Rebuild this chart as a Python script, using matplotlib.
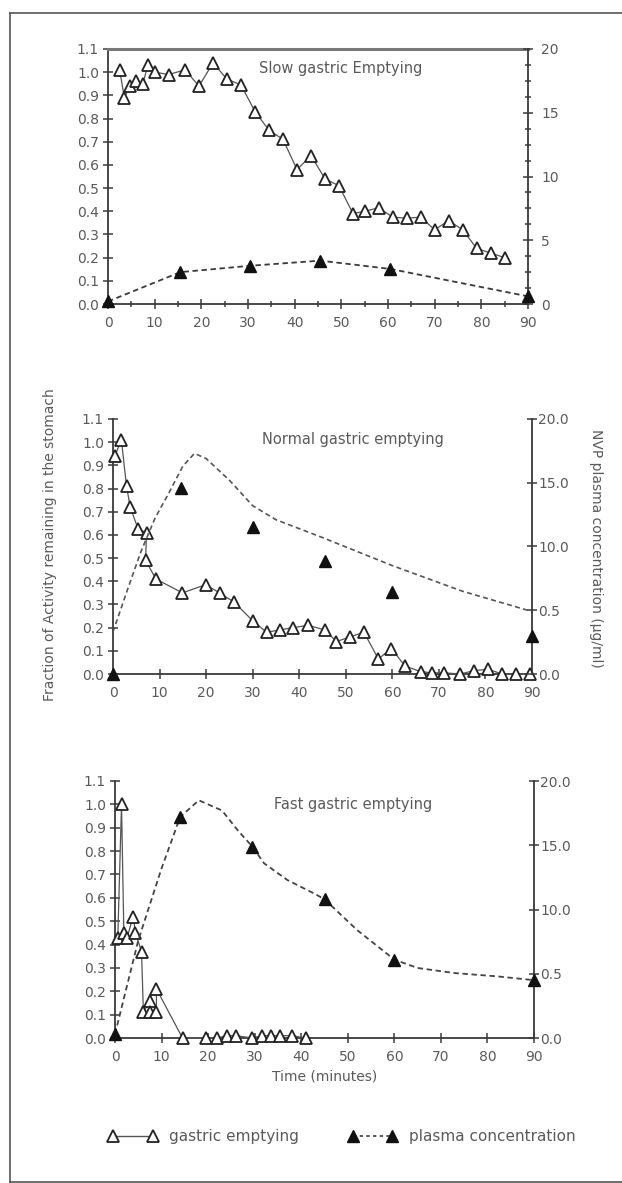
import matplotlib
matplotlib.use('Agg')
import matplotlib.pyplot as plt
from matplotlib.lines import Line2D
from matplotlib.ticker import MultipleLocator, FixedLocator, FixedFormatter, FormatStrFormatter

plt.rcParams['font.family'] = ['DejaVu Sans']

W, H = 622, 1183

# slow gastric emptying
slow_gastric_t = [2.5, 3.5, 4.7, 6.0, 7.5, 8.5, 10.0, 13.0, 16.5, 19.5, 22.5, 25.5, 28.5, 31.5, 34.5,
                  37.5, 40.5, 43.5, 46.5, 49.5, 52.5, 55.0, 58.0, 61.0, 64.0, 67.0, 70.0, 73.0, 76.0,
                  79.0, 82.0, 85.0]
slow_gastric_v = [1.01, 0.89, 0.94, 0.96, 0.95, 1.03, 1.00, 0.99, 1.01, 0.94, 1.04, 0.97, 0.945, 0.83,
                  0.75, 0.71, 0.58, 0.64, 0.54, 0.51, 0.39, 0.40, 0.415, 0.375, 0.37, 0.375, 0.32, 0.36,
                  0.32, 0.24, 0.22, 0.20]
slow_plasma_t = [0, 15.5, 30.5, 45.5, 60.5, 90]
slow_plasma_c = [0.2, 2.5, 3.0, 3.4, 2.75, 0.6]

# normal gastric emptying
normal_gastric_t = [0.4, 1.8, 2.9, 3.7, 5.4, 7.2, 7.0, 9.2, 14.9, 19.9, 22.9, 26.0, 30.0, 33.0, 35.8,
                    38.7, 41.9, 45.5, 48.0, 50.9, 53.9, 57.0, 59.8, 62.7, 66.1, 68.6, 71.2, 74.6, 77.6,
                    80.6, 83.6, 86.5, 89.5]
normal_gastric_v = [0.94, 1.01, 0.81, 0.72, 0.625, 0.61, 0.49, 0.41, 0.35, 0.385, 0.35, 0.31, 0.23,
                    0.18, 0.19, 0.20, 0.21, 0.19, 0.14, 0.16, 0.18, 0.065, 0.11, 0.035, 0.01, 0.005,
                    0.005, 0.0, 0.015, 0.02, 0.0, 0.0, 0.0]
normal_plasma_t = [0, 14.5, 30, 45.5, 60, 90]
normal_plasma_c = [0.0, 14.6, 11.5, 8.9, 6.4, 3.0]
normal_curve_t = [0, 3, 6, 9, 12, 15, 17.5, 20, 25, 30, 35, 45, 60, 75, 90]
normal_curve_c = [3.3, 6.5, 9.6, 12.2, 14.2, 16.3, 17.3, 16.9, 15.2, 13.2, 12.1, 10.7, 8.5, 6.5, 4.9]

# fast gastric emptying
fast_gastric_t = [0.6, 1.4, 1.9, 2.6, 3.9, 4.4, 5.7, 6.1, 7.5, 7.5, 8.9, 8.9, 14.5, 19.5, 22.0, 24.0,
                  26.0, 29.5, 31.5, 33.5, 35.5, 38.0, 41.0]
fast_gastric_v = [0.43, 1.00, 0.45, 0.43, 0.52, 0.45, 0.37, 0.11, 0.16, 0.11, 0.11, 0.21, 0.0, 0.0,
                  0.0, 0.01, 0.01, 0.0, 0.01, 0.01, 0.01, 0.01, 0.0]
fast_plasma_t = [0, 14, 29.5, 45, 60, 90]
fast_plasma_c = [0.3, 17.2, 14.9, 10.8, 6.1, 4.5]
fast_curve_t = [0, 5, 10, 14, 18, 23, 26.5, 29.5, 32, 37, 43, 45, 52, 60, 65, 73, 82, 90]
fast_curve_c = [0.3, 7.6, 13.2, 17.2, 18.5, 17.7, 16.1, 14.9, 13.6, 12.3, 11.2, 10.8, 8.4, 6.1, 5.45,
                5.05, 4.8, 4.5]

titles = ['Slow gastric Emptying', 'Normal gastric emptying', 'Fast gastric emptying']
right_tick_vals = [0, 5, 10, 15, 20]
right_labels_slow = ['0', '5', '10', '15', '20']
right_labels_other = ['0.0', '0.5', '10.0', '15.0', '20.0']

LINE = '#3a3a3a'
TEXT = '#5a5a5a'
FS = 10
FS_T = 10.5

fig = plt.figure(figsize=(W / 100, H / 100), dpi=100)


def box(left, top, right, bottom):
    return [left / W, 1 - bottom / H, (right - left) / W, (bottom - top) / H]


def setup(ax, ax2, right_labels, slow):
    ax.set_xlim(0, 90)
    ax.set_ylim(0, 1.1)
    ax2.set_ylim(0, 20)
    ax.xaxis.set_major_locator(MultipleLocator(10))
    ax.yaxis.set_major_locator(MultipleLocator(0.1))
    ax.yaxis.set_major_formatter(FormatStrFormatter('%.1f'))
    ax2.yaxis.set_major_locator(FixedLocator(right_tick_vals))
    ax2.yaxis.set_major_formatter(FixedFormatter(right_labels))
    for a in (ax, ax2):
        for s in a.spines.values():
            s.set_color(LINE)
            s.set_linewidth(1.3)
        a.tick_params(which='both', direction='inout', color=LINE, labelcolor=TEXT,
                      labelsize=FS, width=1.1)
        a.tick_params(which='major', length=7)
        a.tick_params(which='minor', length=5)
    ax.spines['right'].set_visible(False)
    ax2.spines['left'].set_visible(False)
    ax2.spines['bottom'].set_visible(False)
    ax2.spines['top'].set_visible(False)
    ax.tick_params(axis='y', pad=3)
    ax.tick_params(axis='x', pad=5)
    if slow:
        ax.xaxis.set_minor_locator(MultipleLocator(5))
        ax2.yaxis.set_minor_locator(MultipleLocator(1.25))
        ax.spines['top'].set_color('#777777')
        ax.spines['top'].set_linewidth(2.2)
        ax2.tick_params(axis='y', pad=6)
    else:
        ax.spines['top'].set_visible(False)
        ax2.tick_params(axis='y', pad=1)


def gastric(ax, t, v):
    ax.plot(t, v, color='#555555', lw=0.9, ls='-', marker='^', ms=8, mfc='white',
            mec='#222222', mew=1.3, clip_on=False, zorder=3)


def plasma_marks(ax2, t, c, with_line):
    ax2.plot(t, c, color=LINE, lw=1.3, ls=(0, (3, 2)) if with_line else 'none', marker='^', ms=8,
             mfc='#111111', mec='#111111', clip_on=False, zorder=4)


# panel 1
ax1 = fig.add_axes(box(108, 49, 528, 304))
ax1b = ax1.twinx()
setup(ax1, ax1b, right_labels_slow, True)
gastric(ax1, slow_gastric_t, slow_gastric_v)
plasma_marks(ax1b, slow_plasma_t, slow_plasma_c, True)
ax1.text(0.555, 0.925, titles[0], transform=ax1.transAxes, ha='center', va='center',
         fontsize=FS_T, color=TEXT)

# panel 2
ax2 = fig.add_axes(box(113, 419, 532, 674))
ax2b = ax2.twinx()
setup(ax2, ax2b, right_labels_other, False)
ax2b.plot(normal_curve_t, normal_curve_c, color='#555555', lw=1.2, ls=(0, (3, 2)), zorder=2)
gastric(ax2, normal_gastric_t, normal_gastric_v)
plasma_marks(ax2b, normal_plasma_t, normal_plasma_c, False)
ax2.text(0.573, 0.918, titles[1], transform=ax2.transAxes, ha='center', va='center',
         fontsize=FS_T, color=TEXT)

# panel 3
ax3 = fig.add_axes(box(115, 781, 534, 1038))
ax3b = ax3.twinx()
setup(ax3, ax3b, right_labels_other, False)
ax3b.plot(fast_curve_t, fast_curve_c, color='#444444', lw=1.3, ls=(0, (3, 2)), zorder=2)
gastric(ax3, fast_gastric_t, fast_gastric_v)
plasma_marks(ax3b, fast_plasma_t, fast_plasma_c, False)
ax3.text(0.568, 0.91, titles[2], transform=ax3.transAxes, ha='center', va='center',
         fontsize=FS_T, color=TEXT)
ax3.set_xlabel('Time (minutes)', fontsize=FS, color=TEXT, labelpad=4)

# axis titles
fig.text(50 / W, 1 - 545 / H, 'Fraction of Activity remaining in the stomach', rotation=90,
         ha='center', va='center', fontsize=FS, color=TEXT)
fig.text(596 / W, 1 - 548 / H, 'NVP plasma concentration (µg/ml)', rotation=270,
         ha='center', va='center', fontsize=FS, color=TEXT)

# legend
h_gastric = Line2D([], [], color='#555555', lw=1.0, marker='^', ms=8, mfc='white', mec='#222222',
                   mew=1.3)
h_plasma = Line2D([], [], color=LINE, lw=1.2, ls=(0, (2, 2)), marker='^', ms=8, mfc='#111111',
                  mec='#111111')
fig.legend([h_gastric, h_plasma], ['gastric emptying', 'plasma concentration'], loc='center',
           bbox_to_anchor=(342 / W, 1 - 1137 / H), ncol=2, frameon=False, numpoints=2,
           handlelength=3.2, columnspacing=3.2, handletextpad=0.8, fontsize=11, labelcolor=TEXT)

# page frame
for xs, ys in [([10, 10], [13, 1182]), ([10, 622], [13, 13]), ([10, 622], [1182, 1182])]:
    fig.add_artist(Line2D([x / W for x in xs], [1 - y / H for y in ys], transform=fig.transFigure,
                          color='#555555', lw=1.2))

fig.savefig('out.png', dpi=100)
